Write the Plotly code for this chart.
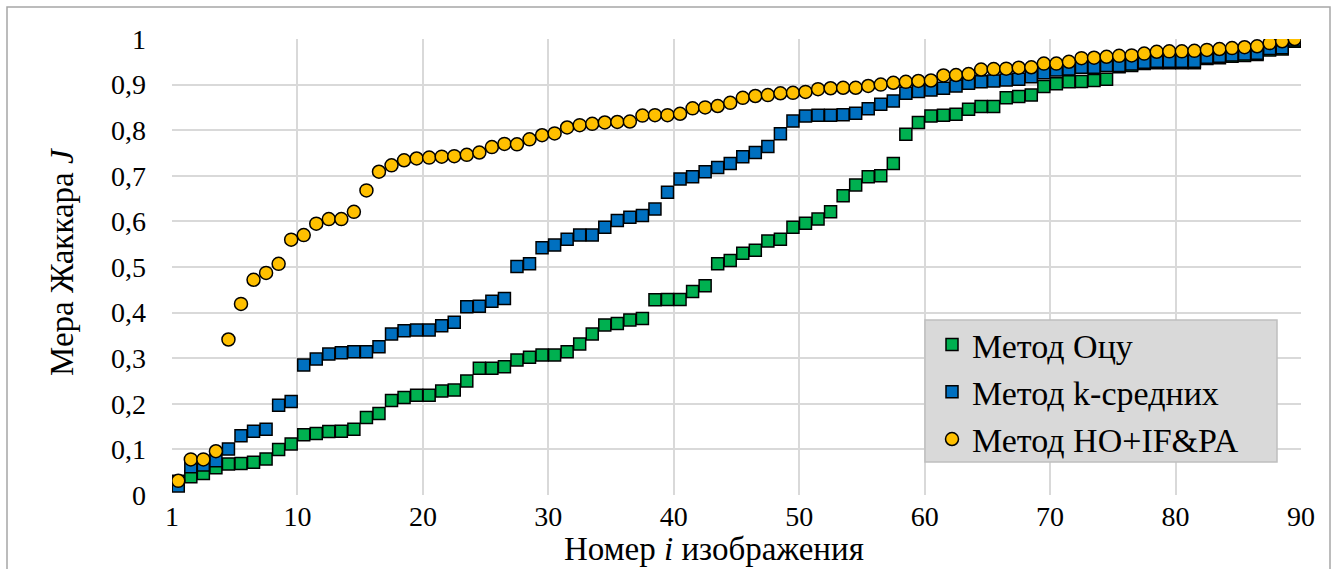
import plotly.graph_objects as go

image_index = list(range(1, 91))

otsu = [0.030, 0.040, 0.047, 0.060, 0.068, 0.069, 0.072, 0.079, 0.100, 0.112,
        0.132, 0.135, 0.139, 0.140, 0.144, 0.170, 0.179, 0.207, 0.214, 0.219,
        0.219, 0.228, 0.230, 0.250, 0.278, 0.278, 0.281, 0.296, 0.302, 0.307,
        0.307, 0.314, 0.331, 0.353, 0.373, 0.376, 0.384, 0.387, 0.428, 0.429,
        0.429, 0.446, 0.459, 0.507, 0.514, 0.530, 0.537, 0.557, 0.561, 0.587,
        0.596, 0.605, 0.621, 0.656, 0.680, 0.698, 0.700, 0.727, 0.791, 0.817,
        0.831, 0.833, 0.835, 0.846, 0.852, 0.852, 0.871, 0.874, 0.877, 0.896,
        0.902, 0.906, 0.907, 0.909, 0.912, 0.939, 0.942, 0.946, 0.948, 0.948,
        0.948, 0.948, 0.957, 0.959, 0.962, 0.964, 0.966, 0.976, 0.978, 0.995]

kmeans = [0.020, 0.062, 0.066, 0.075, 0.101, 0.130, 0.140, 0.144, 0.197, 0.205,
          0.285, 0.298, 0.309, 0.312, 0.314, 0.314, 0.325, 0.353, 0.360, 0.362,
          0.362, 0.371, 0.379, 0.413, 0.414, 0.425, 0.431, 0.501, 0.507, 0.542,
          0.548, 0.561, 0.570, 0.570, 0.587, 0.602, 0.609, 0.613, 0.627, 0.664,
          0.693, 0.698, 0.709, 0.718, 0.727, 0.742, 0.751, 0.764, 0.792, 0.820,
          0.831, 0.833, 0.833, 0.834, 0.837, 0.847, 0.857, 0.864, 0.881, 0.885,
          0.888, 0.892, 0.897, 0.903, 0.906, 0.908, 0.910, 0.912, 0.917, 0.926,
          0.932, 0.934, 0.938, 0.938, 0.942, 0.942, 0.945, 0.949, 0.951, 0.951,
          0.951, 0.951, 0.960, 0.962, 0.965, 0.967, 0.969, 0.979, 0.981, 0.998]

hoifpa = [0.031, 0.078, 0.078, 0.096, 0.341, 0.419, 0.472, 0.487, 0.507, 0.560,
          0.570, 0.595, 0.605, 0.605, 0.621, 0.668, 0.709, 0.723, 0.734, 0.738,
          0.740, 0.742, 0.743, 0.746, 0.751, 0.763, 0.770, 0.769, 0.780, 0.789,
          0.793, 0.806, 0.811, 0.814, 0.817, 0.818, 0.819, 0.832, 0.833, 0.833,
          0.836, 0.848, 0.850, 0.853, 0.860, 0.871, 0.875, 0.877, 0.881, 0.882,
          0.884, 0.890, 0.892, 0.893, 0.893, 0.897, 0.900, 0.904, 0.906, 0.908,
          0.909, 0.920, 0.921, 0.923, 0.933, 0.934, 0.935, 0.937, 0.938, 0.946,
          0.946, 0.950, 0.958, 0.959, 0.961, 0.963, 0.964, 0.968, 0.972, 0.973,
          0.973, 0.974, 0.976, 0.978, 0.980, 0.982, 0.984, 0.991, 0.995, 1.000]

series_names = ["Метод Оцу", "Метод k-средних", "Метод HO+IF&PA"]
x_tick_values = [0, 10, 20, 30, 40, 50, 60, 70, 80, 90]
x_tick_labels = ["1", "10", "20", "30", "40", "50", "60", "70", "80", "90"]
y_tick_values = [0, 0.1, 0.2, 0.3, 0.4, 0.5, 0.6, 0.7, 0.8, 0.9, 1.0]
y_tick_labels = ["0", "0,1", "0,2", "0,3", "0,4", "0,5", "0,6", "0,7", "0,8", "0,9", "1"]

# category-style placement: each image sits in the middle of its slot
x_pos = [i - 0.5 for i in image_index]

FONT = "Liberation Serif"

fig = go.Figure()
styles = [
    dict(symbol="square", color="#00b050", size=12),
    dict(symbol="square", color="#0070c0", size=12),
    dict(symbol="circle", color="#ffc000", size=13),
]
for name, vals, st in zip(series_names, [otsu, kmeans, hoifpa], styles):
    fig.add_trace(go.Scatter(
        x=x_pos, y=vals, mode="markers", name=name, legendgroup=name,
        marker=dict(symbol=st["symbol"], color=st["color"], size=st["size"],
                    line=dict(color="black", width=1.5)),
    ))

PW, PH, PL, PB = 1129, 456, 172, 495  # plot area size / left / bottom in px


def px_x(v):
    return (v - PL) / PW


def px_y(v):
    return (PB - v) / PH


fig.update_layout(
    width=1341, height=569,
    margin=dict(l=172, r=40, t=39, b=74, autoexpand=False),
    paper_bgcolor="white", plot_bgcolor="white",
    font=dict(family=FONT, color="black", size=28),
    showlegend=True,
    legend=dict(
        x=px_x(932), y=0.3925, xanchor="left", yanchor="top",
        bgcolor="rgba(0,0,0,0)", borderwidth=0,
        font=dict(family=FONT, size=34, color="black"),
        tracegroupgap=0, itemsizing="trace",
    ),
    xaxis=dict(
        range=[0, 90], tickvals=x_tick_values, ticktext=x_tick_labels,
        showgrid=True, gridcolor="#d9d9d9", gridwidth=1.5,
        zeroline=False, showline=False, ticks="",
        tickfont=dict(family=FONT, size=28), ticklabelstandoff=2,
    ),
    yaxis=dict(
        range=[0, 1.0], tickvals=y_tick_values, ticktext=y_tick_labels,
        showgrid=True, gridcolor="#d9d9d9", gridwidth=1.5,
        zeroline=False, showline=False, ticks="",
        tickfont=dict(family=FONT, size=28), ticklabelstandoff=25,
    ),
    annotations=[
        dict(text="Номер <i>i</i> изображения", xref="paper", yref="paper",
             x=px_x(714), y=px_y(549), xanchor="center", yanchor="middle",
             showarrow=False, font=dict(family=FONT, size=33)),
        dict(text="Мера Жаккара <i>J</i>", xref="paper", yref="paper",
             x=px_x(62), y=px_y(262), xanchor="center", yanchor="middle",
             textangle=-90, showarrow=False, font=dict(family=FONT, size=33)),
    ],
    shapes=[
        # outer chart border
        dict(type="rect", xref="paper", yref="paper",
             x0=px_x(7), x1=px_x(1330), y0=px_y(600), y1=px_y(7),
             line=dict(color="#a6a6a6", width=1.5), fillcolor="rgba(0,0,0,0)", layer="below"),
        # legend box background
        dict(type="rect", xref="paper", yref="paper",
             x0=px_x(925), x1=px_x(1277), y0=px_y(462), y1=px_y(320),
             line=dict(color="#bfbfbf", width=1.5), fillcolor="#d9d9d9", layer="above"),
    ],
)

fig.write_html("out.html", config={"displayModeBar": False},
               post_script="document.body.style.margin='0';document.body.style.overflow='hidden';")
